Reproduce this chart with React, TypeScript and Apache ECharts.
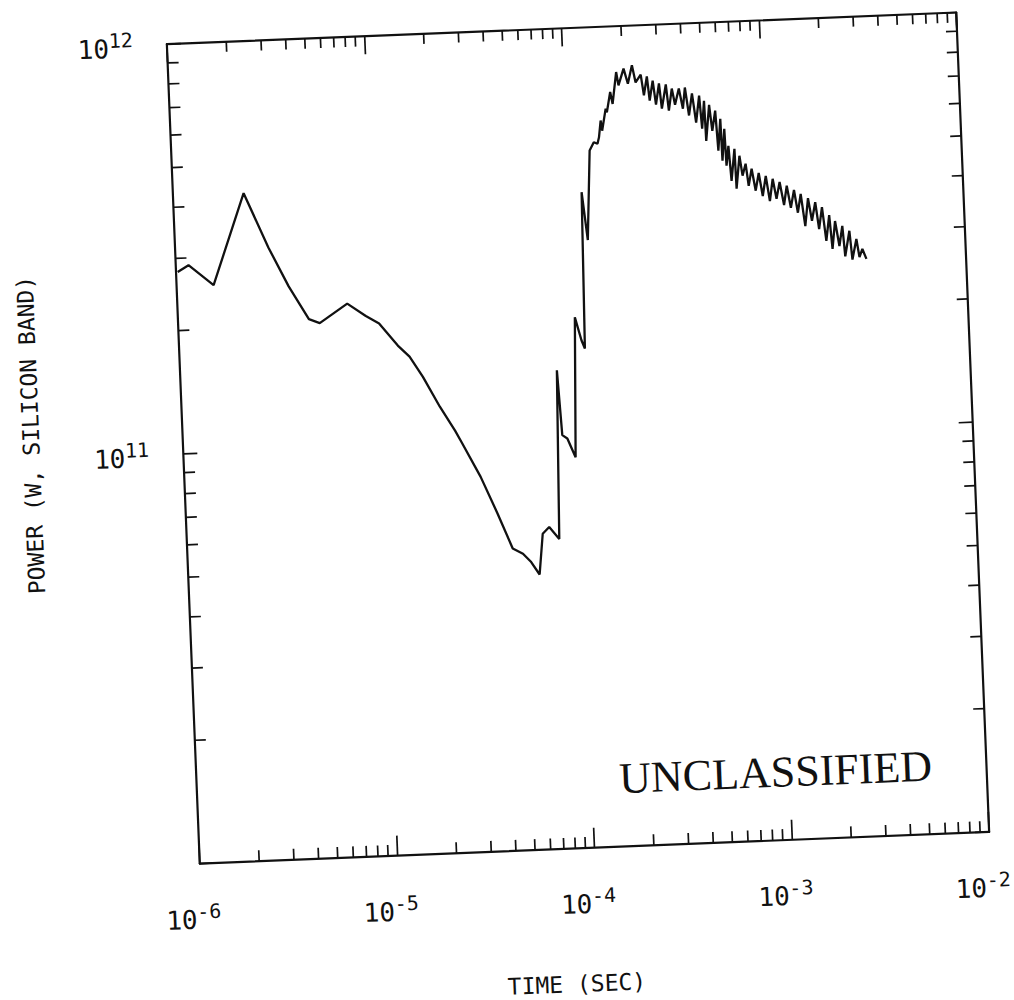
import React, { useEffect, useRef } from "react";
import * as echarts from "echarts";

// ---- data (time in s, power in W) ----
const earlyTime = [
  1.02e-6, 1.16e-6, 1.54e-6, 2.28e-6, 2.97e-6, 3.69e-6, 4.6e-6, 5.21e-6, 7.24e-6, 8.94e-6,
  1.04e-5, 1.28e-5, 1.46e-5, 1.69e-5, 2.03e-5, 2.4e-5, 2.58e-5, 3.16e-5, 3.78e-5, 4.44e-5,
  4.99e-5, 5.47e-5, 6.0e-5,
];
const earlyPower = [
  2.78e11, 2.88e11, 2.56e11, 4.26e11, 3.12e11, 2.5e11, 2.07e11, 2.02e11, 2.24e11, 2.08e11,
  1.99e11, 1.75e11, 1.64e11, 1.46e11, 1.23e11, 1.07e11, 1.0e11, 8.22e10, 6.67e10, 5.46e10,
  5.29e10, 5.04e10, 4.69e10,
];

const riseTime = [
  6.34e-5, 6.86e-5, 7.67e-5, 8.07e-5, 8.34e-5, 8.83e-5, 9.64e-5, 1.02e-4, 1.09e-4, 1.13e-4,
  1.17e-4, 1.23e-4, 1.31e-4, 1.38e-4, 1.44e-4, 1.47e-4, 1.51e-4, 1.53e-4, 1.61e-4, 1.63e-4,
  1.71e-4, 1.75e-4, 1.85e-4, 1.89e-4, 2.02e-4, 2.11e-4, 2.23e-4, 2.31e-4,
];
const risePower = [
  5.89e10, 6.11e10, 5.7e10, 1.47e11, 1.02e11, 1.0e11, 8.98e10, 1.97e11, 1.73e11, 1.65e11,
  3.97e11, 3.03e11, 5.01e11, 5.24e11, 5.19e11, 5.38e11, 5.91e11, 5.58e11, 6.31e11, 6.18e11,
  6.92e11, 6.47e11, 7.73e11, 7.17e11, 7.87e11, 7.22e11, 8.0e11, 7.26e11,
];

const tailTime = [
  2.46e-4, 2.53e-4, 2.64e-4, 2.7e-4, 2.82e-4, 2.9e-4, 3.03e-4, 3.1e-4, 3.28e-4, 3.36e-4,
  3.51e-4, 3.62e-4, 3.81e-4, 3.96e-4, 4.09e-4, 4.24e-4, 4.43e-4, 4.59e-4, 4.81e-4, 4.91e-4,
  5.08e-4, 5.12e-4, 5.38e-4, 5.52e-4, 5.76e-4, 5.87e-4, 6.09e-4, 6.13e-4, 6.35e-4, 6.41e-4,
  6.61e-4, 6.75e-4, 7.08e-4, 7.13e-4, 7.48e-4, 7.69e-4, 8.01e-4, 8.22e-4, 8.57e-4, 8.9e-4,
  9.29e-4, 9.64e-4, 1.007e-3, 1.045e-3, 1.09e-3, 1.13e-3, 1.18e-3, 1.23e-3, 1.28e-3, 1.33e-3,
  1.39e-3, 1.44e-3, 1.5e-3, 1.56e-3, 1.63e-3, 1.69e-3, 1.77e-3, 1.83e-3, 1.91e-3, 1.98e-3,
  2.07e-3, 2.12e-3, 2.21e-3, 2.3e-3, 2.4e-3, 2.45e-3, 2.6e-3, 2.66e-3, 2.81e-3, 2.89e-3,
  3.0e-3, 3.13e-3,
];
const tailPower = [
  7.58e11, 6.74e11, 7.49e11, 6.54e11, 7.31e11, 6.38e11, 7.18e11, 6.23e11, 7.13e11, 6.15e11,
  6.96e11, 6.35e11, 6.95e11, 6.2e11, 6.98e11, 5.96e11, 6.74e11, 5.72e11, 6.65e11, 5.52e11,
  6.45e11, 5.15e11, 6.3e11, 5.44e11, 6.09e11, 4.86e11, 5.81e11, 4.59e11, 5.49e11, 4.46e11,
  4.98e11, 4.09e11, 4.89e11, 3.91e11, 4.7e11, 4.2e11, 4.49e11, 3.96e11, 4.36e11, 3.85e11,
  4.25e11, 3.73e11, 4.17e11, 3.62e11, 4.1e11, 3.66e11, 4.02e11, 3.53e11, 3.93e11, 3.47e11,
  3.83e11, 3.37e11, 3.74e11, 3.12e11, 3.65e11, 3.21e11, 3.56e11, 3.06e11, 3.46e11, 2.86e11,
  3.3e11, 2.73e11, 3.19e11, 2.77e11, 3.1e11, 2.61e11, 3.01e11, 2.56e11, 2.87e11, 2.59e11,
  2.71e11, 2.56e11,
];

// ---- axes ----
const X_MIN = 1e-6;
const X_MAX = 1e-2;
const Y_MIN = 1e10;
const Y_MAX = 1e12;
const xDecades = [-6, -5, -4, -3];
const yDecades = [10, 11];
const minorMantissas = [2, 3, 4, 5, 6, 7, 8, 9];
const yLabelledExponents = [11, 12];

const xAxisTitle = "TIME (SEC)";
const yAxisTitle = "POWER (W, SILICON BAND)";
const stampText = "UNCLASSIFIED";

const MONO = '"DejaVu Sans Mono", "Liberation Mono", monospace';
const SERIF = '"Liberation Serif", "DejaVu Serif", serif';
const INK = "#111";

export default function App() {
  const ref = useRef<HTMLDivElement>(null);

  useEffect(() => {
    if (!ref.current) return;
    const chart = echarts.init(ref.current, null, { renderer: "svg" });

    const allTime = [...earlyTime, ...riseTime, ...tailTime];
    const allPower = [...earlyPower, ...risePower, ...tailPower];
    const points = allTime.map((t, i) => [t, allPower[i]]);

    const xMinor = xDecades.flatMap((d) => minorMantissas.map((m) => m * Math.pow(10, d)));
    const yMinor = yDecades.flatMap((d) => minorMantissas.map((m) => m * Math.pow(10, d)));

    const rich = {
      b: { fontFamily: MONO, fontSize: 26, color: INK, verticalAlign: "bottom" },
      s: { fontFamily: MONO, fontSize: 20, color: INK, verticalAlign: "top", padding: [0, 0, 11, 0] },
    };
    const expLabel = (v: number) => `{b|10}{s|${Math.round(Math.log10(v))}}`;

    const MINOR = 11;
    const tickLine = (x1: number, y1: number, x2: number, y2: number) => ({
      type: "line",
      shape: { x1, y1, x2, y2 },
      style: { stroke: INK, lineWidth: 1.7 },
    });

    const axisLine = { show: true, onZero: false, lineStyle: { color: INK, width: 2.2 } };

    const option = {
      animation: false,
      backgroundColor: "#fff",
      grid: { left: 183, top: 28, width: 790, height: 820, containLabel: false },
      xAxis: [
        {
          type: "log",
          logBase: 10,
          min: X_MIN,
          max: X_MAX,
          position: "bottom",
          axisLine,
          axisTick: { show: true, inside: true, length: 20, lineStyle: { color: INK, width: 1.7 } },
          axisLabel: {
            margin: 38,
            color: INK,
            padding: [0, 16, 0, 0],
            formatter: (v: number) => expLabel(v),
            rich,
          },
          splitLine: { show: false },
          name: xAxisTitle,
          nameLocation: "middle",
          nameGap: 124,
          nameTextStyle: { fontFamily: MONO, fontSize: 23, color: INK, padding: [0, 46, 0, 0] },
        },
        {
          type: "log",
          logBase: 10,
          min: X_MIN,
          max: X_MAX,
          position: "top",
          axisLine,
          axisTick: { show: true, inside: true, length: 18, lineStyle: { color: INK, width: 1.7 } },
          axisLabel: { show: false },
          splitLine: { show: false },
        },
      ],
      yAxis: [
        {
          type: "log",
          logBase: 10,
          min: Y_MIN,
          max: Y_MAX,
          position: "left",
          axisLine,
          axisTick: { show: true, inside: true, length: 14, lineStyle: { color: INK, width: 1.7 } },
          axisLabel: {
            margin: 34,
            color: INK,
            formatter: (v: number) =>
              yLabelledExponents.includes(Math.round(Math.log10(v))) ? expLabel(v) : "",
            rich,
          },
          splitLine: { show: false },
          name: yAxisTitle,
          nameLocation: "middle",
          nameGap: 140,
          nameTextStyle: { fontFamily: MONO, fontSize: 23, color: INK, padding: [0, 0, 0, 50] },
        },
        {
          type: "log",
          logBase: 10,
          min: Y_MIN,
          max: Y_MAX,
          position: "right",
          axisLine,
          axisTick: { show: true, inside: true, length: 14, lineStyle: { color: INK, width: 1.7 } },
          axisLabel: { show: false },
          splitLine: { show: false },
        },
      ],
      graphic: [
        {
          type: "text",
          x: 762,
          y: 780,
          style: {
            text: stampText,
            font: `44px ${SERIF}`,
            fill: INK,
            textAlign: "center",
            textVerticalAlign: "middle",
          },
        },
      ],
      series: [
        {
          type: "custom",
          xAxisIndex: 0,
          yAxisIndex: 0,
          silent: true,
          clip: false,
          data: xMinor.map((v) => [v, Y_MIN]),
          encode: { x: 0, y: 1 },
          renderItem: (_p: any, api: any) => {
            const v = api.value(0);
            const b = api.coord([v, Y_MIN]);
            const t = api.coord([v, Y_MAX]);
            return {
              type: "group",
              children: [
                tickLine(b[0], b[1], b[0], b[1] - MINOR),
                tickLine(t[0], t[1], t[0], t[1] + MINOR - 1),
              ],
            };
          },
        },
        {
          type: "custom",
          xAxisIndex: 0,
          yAxisIndex: 0,
          silent: true,
          clip: false,
          data: yMinor.map((v) => [X_MIN, v]),
          encode: { x: 0, y: 1 },
          renderItem: (_p: any, api: any) => {
            const v = api.value(1);
            const l = api.coord([X_MIN, v]);
            const r = api.coord([X_MAX, v]);
            return {
              type: "group",
              children: [
                tickLine(l[0], l[1], l[0] + MINOR, l[1]),
                tickLine(r[0], r[1], r[0] - MINOR, r[1]),
              ],
            };
          },
        },
        {
          type: "line",
          xAxisIndex: 0,
          yAxisIndex: 0,
          data: points,
          showSymbol: false,
          symbol: "none",
          smooth: false,
          lineStyle: { color: INK, width: 2.3 },
          z: 5,
        },
      ],
    };

    chart.setOption(option as any);
    return () => chart.dispose();
  }, []);

  return (
    <div
      style={{
        position: "fixed",
        left: 0,
        top: 0,
        width: 1014,
        height: 1000,
        overflow: "hidden",
        background: "#fff",
      }}
    >
      <div
        ref={ref}
        style={{
          width: 1014,
          height: 1000,
          transform: "rotate(-2.3deg)",
          transformOrigin: "579px 438px",
        }}
      />
    </div>
  );
}
